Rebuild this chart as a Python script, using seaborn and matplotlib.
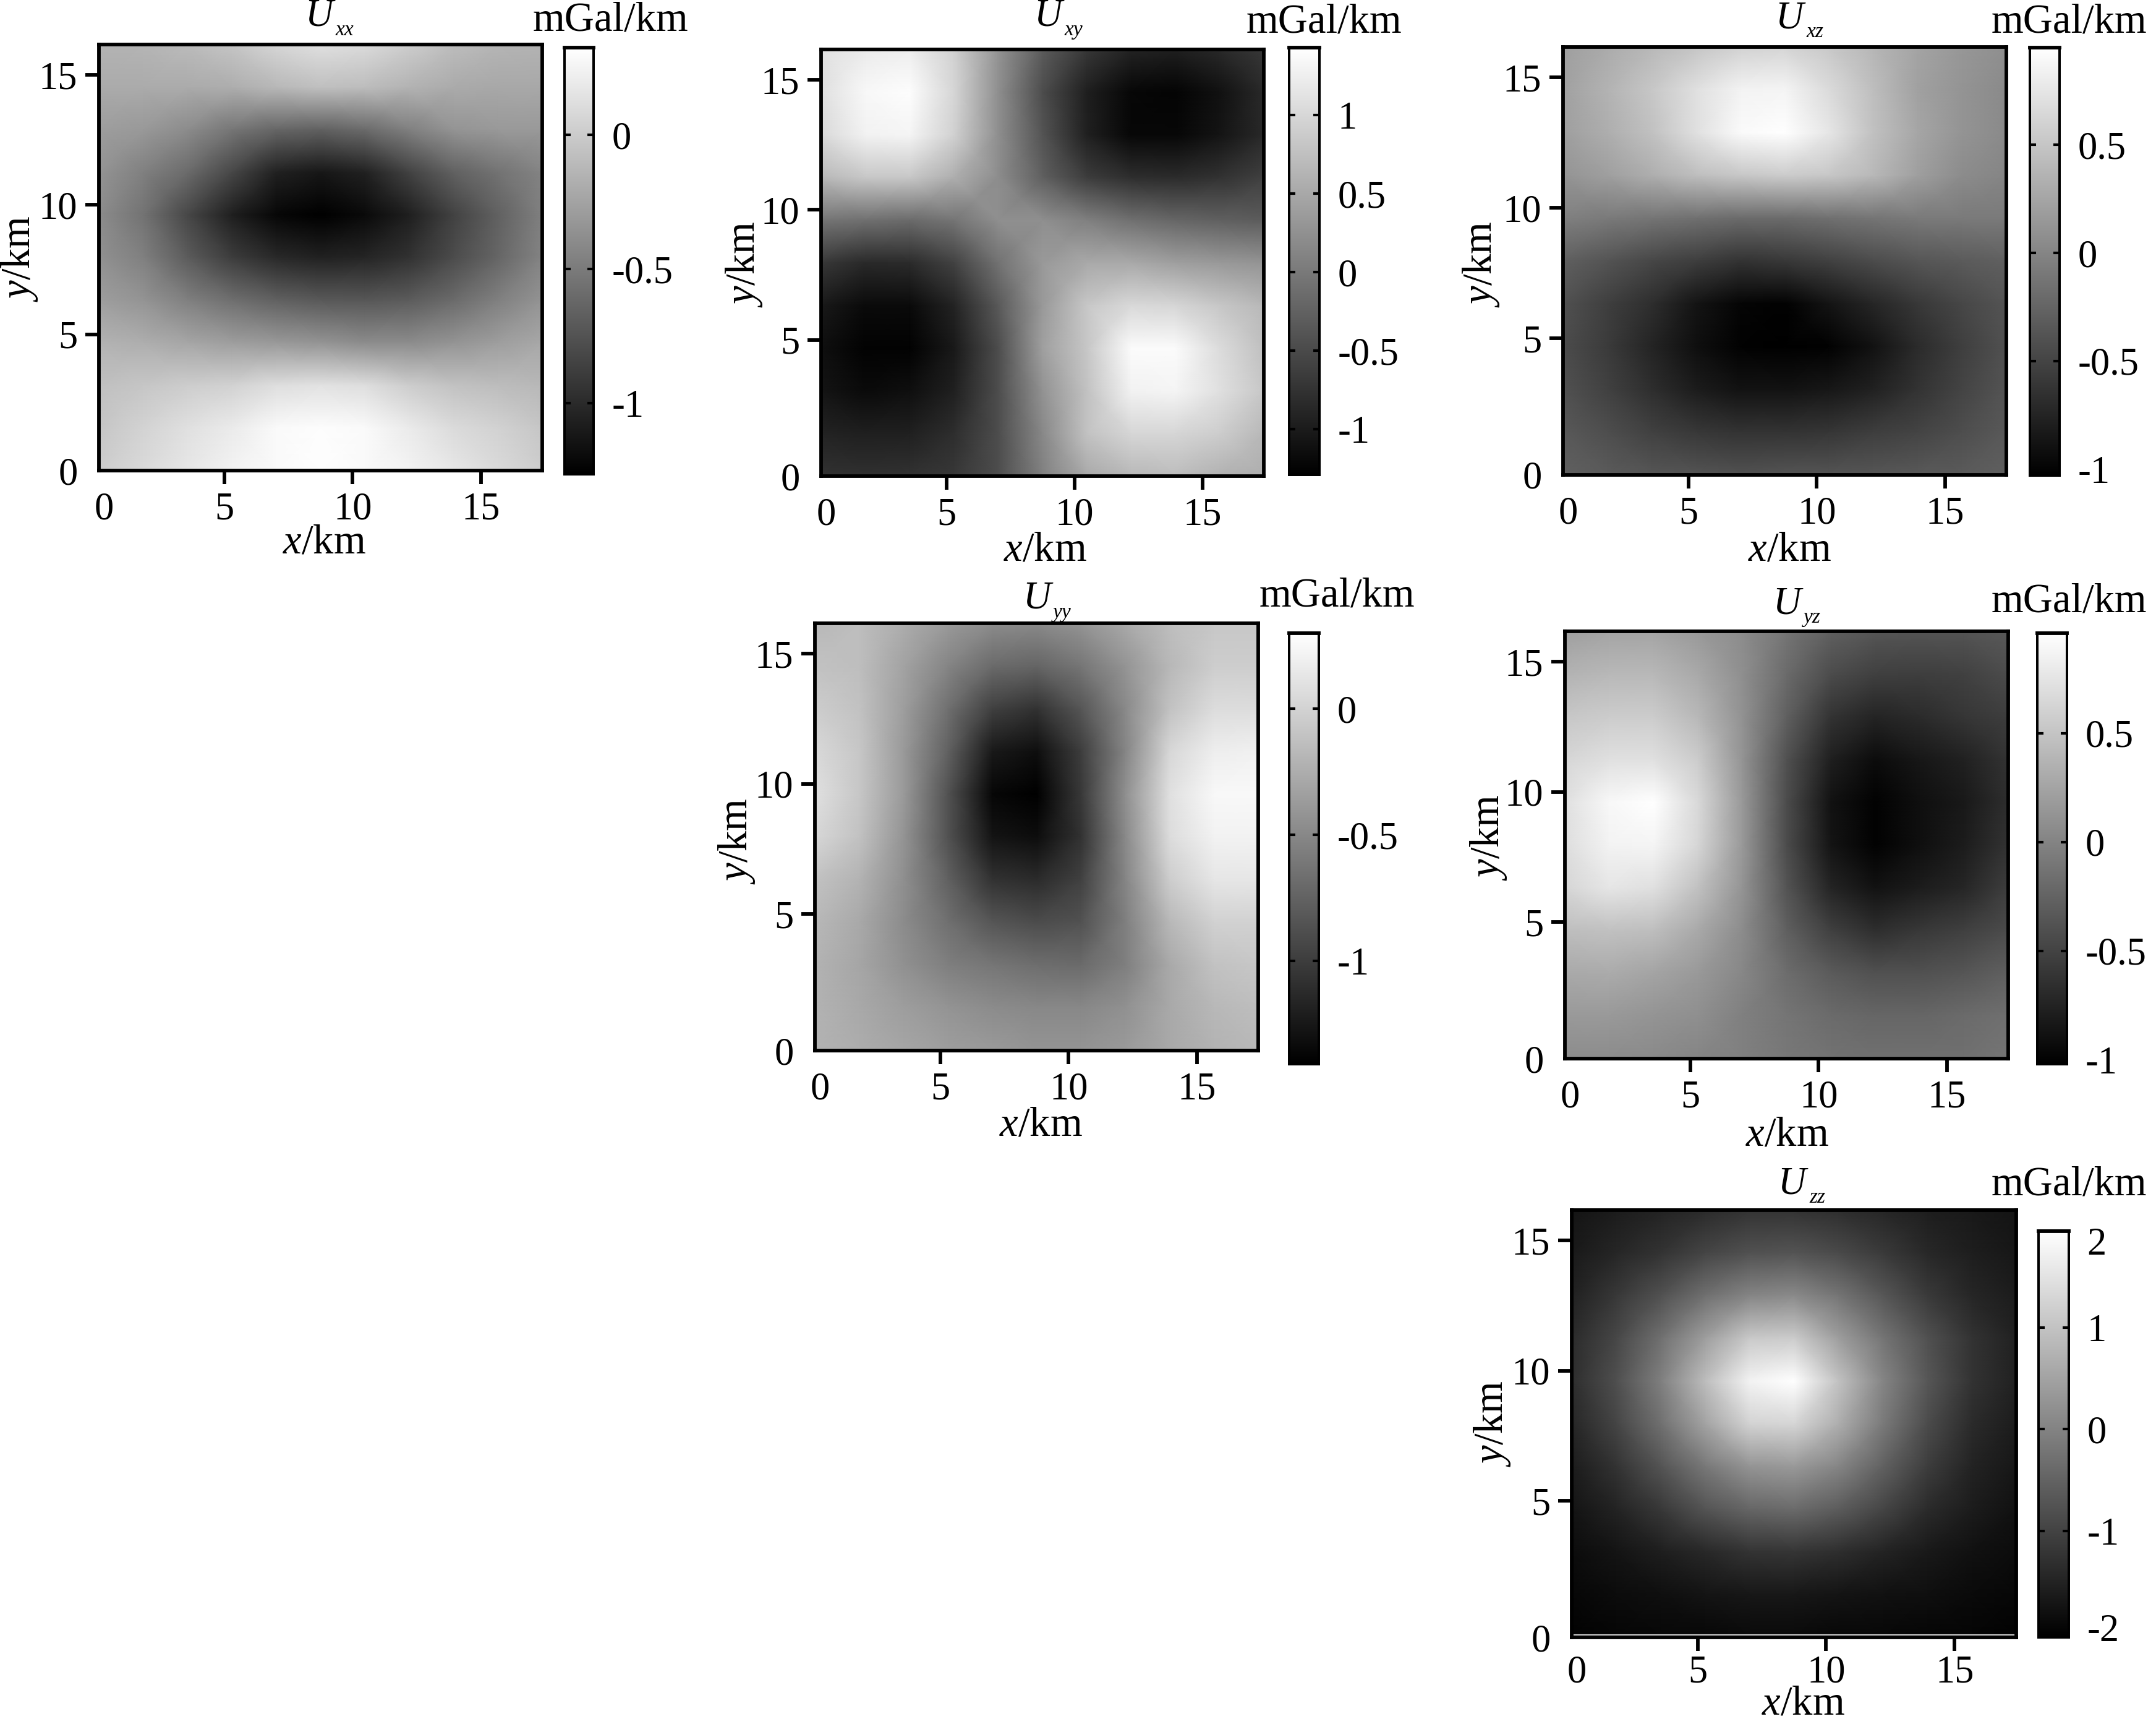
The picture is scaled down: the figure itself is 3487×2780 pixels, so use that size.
import numpy as np
import matplotlib
matplotlib.use('Agg')
import matplotlib.pyplot as plt
import seaborn as sns

plt.rcParams['font.family'] = ['Liberation Serif', 'DejaVu Serif']
plt.rcParams['mathtext.fontset'] = 'custom'
plt.rcParams['mathtext.rm'] = 'Liberation Serif'
plt.rcParams['mathtext.it'] = 'Liberation Serif:italic'

W, H = 3487, 2780
DPI = 300

# values, rows run from the top of each map to the bottom
Uxx = [
    [-.15, -.14, -.10, -.04, .07, .13, .10, .01, -.09, -.14, -.15],
    [-.20, -.20, -.20, -.18, -.12, -.07, -.09, -.15, -.20, -.22, -.22],
    [-.28, -.31, -.39, -.53, -.63, -.66, -.60, -.47, -.34, -.31, -.31],
    [-.34, -.47, -.60, -.82, -1.06, -1.12, -1.06, -.85, -.66, -.55, -.44],
    [-.39, -.55, -.82, -1.07, -1.22, -1.27, -1.20, -1.07, -.85, -.66, -.47],
    [-.36, -.47, -.69, -.88, -1.01, -1.06, -1.03, -.95, -.79, -.63, -.44],
    [-.28, -.34, -.47, -.57, -.66, -.71, -.72, -.69, -.60, -.47, -.34],
    [-.15, -.18, -.23, -.28, -.31, -.34, -.39, -.39, -.34, -.28, -.22],
    [-.07, -.03, .01, .04, .12, .14, .12, .01, -.06, -.09, -.12],
    [-.03, .05, .13, .20, .29, .31, .29, .20, .10, .04, -.03],
    [.01, .09, .17, .25, .29, .32, .29, .25, .17, .09, .01],
]
Uxy = [
    [1.10, 1.21, 1.24, .94, .29, -.31, -.69, -.91, -.96, -.85, -.69],
    [1.10, 1.35, 1.40, .99, .23, -.47, -.96, -1.21, -1.24, -1.10, -.85],
    [1.02, 1.29, 1.32, .94, .23, -.39, -.94, -1.21, -1.21, -1.07, -.85],
    [.67, .83, .83, .56, .21, -.26, -.64, -.80, -.83, -.75, -.61],
    [-.04, -.09, -.15, -.04, .23, .23, .07, -.09, -.20, -.26, -.31],
    [-.69, -.85, -.83, -.58, -.07, .34, .51, .51, .40, .34, .29],
    [-1.02, -1.18, -1.18, -.91, -.34, .34, .83, 1.02, .99, .83, .67],
    [-1.13, -1.26, -1.26, -1.02, -.47, .40, .83, 1.38, 1.38, 1.05, .75],
    [-1.07, -1.18, -1.13, -.94, -.47, .27, .78, 1.29, 1.32, 1.10, .83],
    [-.91, -.96, -.94, -.80, -.47, .16, .78, .99, .99, .89, .67],
    [-.75, -.77, -.75, -.69, -.47, .07, .51, .67, .72, .61, .56],
]
Uxz = [
    [.20, .30, .40, .50, .60, .62, .52, .38, .24, .14, .08],
    [.22, .36, .51, .71, .85, .87, .67, .44, .22, .12, .04],
    [.20, .32, .47, .71, .91, .95, .75, .47, .26, .12, .04],
    [.12, .20, .32, .44, .51, .55, .51, .40, .20, .06, .00],
    [-.04, -.08, -.12, -.16, -.20, -.20, -.16, -.12, -.08, -.08, -.08],
    [-.28, -.38, -.48, -.55, -.63, -.59, -.52, -.44, -.36, -.32, -.28],
    [-.40, -.54, -.67, -.87, -.99, -1.01, -.87, -.73, -.59, -.48, -.38],
    [-.44, -.57, -.75, -.91, -1.01, -1.03, -1.01, -.89, -.69, -.54, -.40],
    [-.40, -.52, -.67, -.81, -.89, -.89, -.85, -.77, -.63, -.50, -.38],
    [-.34, -.42, -.52, -.59, -.63, -.63, -.61, -.55, -.50, -.42, -.34],
    [-.28, -.32, -.36, -.38, -.40, -.38, -.38, -.36, -.34, -.32, -.28],
]
Uyy = [
    [-.18, -.14, -.25, -.38, -.47, -.49, -.42, -.28, -.14, -.08, -.08],
    [-.11, -.14, -.32, -.52, -.69, -.73, -.62, -.42, -.18, -.04, -.04],
    [-.04, -.11, -.35, -.66, -.98, -1.07, -.83, -.49, -.11, .06, .06],
    [.04, -.08, -.38, -.76, -1.24, -1.31, -1.00, -.52, .03, .18, .20],
    [.09, -.08, -.38, -.86, -1.36, -1.41, -1.03, -.45, .09, .25, .25],
    [.03, -.11, -.42, -.86, -1.27, -1.32, -1.07, -.49, .06, .21, .21],
    [-.11, -.21, -.45, -.76, -1.07, -1.12, -.97, -.52, -.04, .13, .13],
    [-.18, -.28, -.47, -.66, -.83, -.90, -.86, -.56, -.18, -.01, -.01],
    [-.21, -.30, -.44, -.56, -.62, -.67, -.69, -.56, -.28, -.11, -.08],
    [-.21, -.28, -.35, -.42, -.47, -.50, -.50, -.44, -.28, -.18, -.14],
    [-.21, -.25, -.30, -.35, -.38, -.42, -.42, -.38, -.28, -.21, -.18],
]
Uyz = [
    [.21, .25, .25, .17, .07, -.11, -.27, -.35, -.37, -.37, -.33],
    [.37, .41, .41, .29, .09, -.19, -.43, -.52, -.54, -.51, -.43],
    [.52, .56, .56, .41, .11, -.27, -.62, -.74, -.68, -.60, -.54],
    [.64, .72, .72, .56, .13, -.39, -.78, -.92, -.84, -.76, -.62],
    [.72, .90, .96, .66, .17, -.43, -.88, -1.00, -.90, -.82, -.66],
    [.70, .86, .88, .64, .17, -.43, -.86, -1.00, -.90, -.80, -.62],
    [.64, .76, .72, .48, .13, -.37, -.74, -.88, -.80, -.72, -.54],
    [.45, .48, .45, .29, .07, -.27, -.52, -.66, -.58, -.52, -.43],
    [.29, .31, .25, .17, .03, -.17, -.31, -.39, -.39, -.35, -.27],
    [.17, .17, .13, .09, -.03, -.11, -.19, -.23, -.23, -.19, -.15],
    [.07, .07, .05, .01, -.03, -.09, -.13, -.15, -.15, -.15, -.11],
]
Uzz = [
    [-1.73, -1.61, -1.49, -1.37, -1.25, -1.25, -1.33, -1.45, -1.57, -1.65, -1.73],
    [-1.65, -1.45, -1.25, -.97, -.77, -.73, -.89, -1.13, -1.41, -1.57, -1.69],
    [-1.53, -1.17, -.77, -.29, .03, .11, -.21, -.69, -1.13, -1.45, -1.61],
    [-1.37, -.93, -.29, .43, 1.10, 1.15, .43, -.21, -.77, -1.25, -1.53],
    [-1.33, -.81, -.05, .91, 1.75, 1.95, .99, .03, -.69, -1.25, -1.53],
    [-1.45, -.97, -.29, .51, 1.25, 1.30, .67, -.13, -.85, -1.37, -1.61],
    [-1.61, -1.25, -.73, -.17, .27, .35, .03, -.53, -1.09, -1.49, -1.69],
    [-1.73, -1.49, -1.17, -.73, -.45, -.37, -.61, -.97, -1.37, -1.61, -1.77],
    [-1.85, -1.73, -1.57, -1.41, -1.25, -1.21, -1.33, -1.49, -1.65, -1.77, -1.85],
    [-1.93, -1.85, -1.81, -1.73, -1.69, -1.69, -1.73, -1.77, -1.81, -1.89, -1.93],
    [-2.01, -1.97, -1.93, -1.93, -1.89, -1.89, -1.93, -1.93, -1.97, -1.97, -2.01],
]

# colour limits and colour bar ticks of each panel
vlims = [(-1.265, .325), (-1.29, 1.43), (-1.03, .95), (-1.41, .30), (-1.02, .96), (-2.05, 1.95)]
cbar_ticks = [
    [0, -.5, -1],
    [1, .5, 0, -.5, -1],
    [.5, 0, -.5, -1],
    [0, -.5, -1],
    [.5, 0, -.5, -1],
    [1.85, 1, 0, -1, -1.95],
]
cbar_labels = [
    ['0', '-0.5', '-1'],
    ['1', '0.5', '0', '-0.5', '-1'],
    ['0.5', '0', '-0.5', '-1'],
    ['0', '-0.5', '-1'],
    ['0.5', '0', '-0.5', '-1'],
    ['2', '1', '0', '-1', '-2'],
]
subs = ['xx', 'xy', 'xz', 'yy', 'yz', 'zz']
grids = [Uxx, Uxy, Uxz, Uyy, Uyz, Uzz]

# km range covered by every map and its tick labels
XMIN, XMAX = 0.1, 17.4
YMIN, YMAX = -0.24, 16.17
x_ticks = [0.3, 5, 10, 15]
y_ticks = [YMIN, 5, 10, 15]
tick_labels = ['0', '5', '10', '15']

# pixel layout: map box, colour bar box, then centres of the texts
boxes = [(160, 877, 72, 761), (1328, 2044, 80, 770), (2528, 3245, 76, 768),
         (1318, 2035, 1008, 1699), (2531, 3248, 1021, 1712), (2542, 3261, 1957, 2648)]
cbar_boxes = [(913, 960, 77, 767), (2085, 2134, 77, 768), (3283, 3331, 77, 769),
              (2085, 2133, 1024, 1721), (3295, 3343, 1024, 1721), (3297, 3346, 1991, 2648)]
unit_pos = [(987, 33), (2141, 36), (3346, 36), (2162, 964), (3346, 973), (3346, 1916)]
title_pos = [(536, 27), (1715, 27), (2914, 30), (1697, 969), (2910, 977), (2918, 1915)]
xlabel_pos = [(524, 878), (1690, 890), (2894, 890), (1683, 1820), (2890, 1836), (2916, 2756)]
ylabel_pos = [(32, 418), (1204, 427), (2395, 427), (1192, 1360), (2408, 1354), (2414, 2302)]


def add_box(fig, box):
    l, r, t, b = box
    return fig.add_axes([l / W, 1 - b / H, (r - l) / W, (b - t) / H])


def put_text(fig, pos, s, **kw):
    fig.text(pos[0] / W, 1 - pos[1] / H, s, ha='center', va='center', **kw)


fig = plt.figure(figsize=(W / DPI, H / DPI), dpi=DPI, facecolor='white')

for i, grid in enumerate(grids):
    ax = add_box(fig, boxes[i])
    cax = add_box(fig, cbar_boxes[i])
    vmin, vmax = vlims[i]

    sns.heatmap(np.array(grid), cmap='gray', vmin=vmin, vmax=vmax, ax=ax, cbar_ax=cax,
                xticklabels=False, yticklabels=False, shading='gouraud')

    nrow, ncol = np.array(grid).shape
    ax.set_xlim(0, ncol - 1)
    ax.set_ylim(nrow - 1, 0)

    # km to grid index, the heatmap axes count cells
    ax.set_xticks([(k - XMIN) / (XMAX - XMIN) * (ncol - 1) for k in x_ticks])
    ax.set_xticklabels(tick_labels, fontsize=15)
    ax.set_yticks([(YMAX - k) / (YMAX - YMIN) * (nrow - 1) for k in y_ticks])
    ax.set_yticklabels(tick_labels, fontsize=15, rotation=0)
    # last map sits tight against the bottom edge, so its x labels ride a bit higher
    ax.tick_params(length=5.3, width=1.4, pad=3, direction='out')
    if i == 5:
        ax.tick_params(axis='x', pad=1.5)
    ax.xaxis.get_major_ticks()[0].tick1line.set_visible(False)
    ax.yaxis.get_major_ticks()[0].tick1line.set_visible(False)
    for s in ax.spines.values():
        s.set_visible(True)
        s.set_linewidth(1.4)
        s.set_color('black')

    cax.set_yticks(cbar_ticks[i])
    cax.set_yticklabels(cbar_labels[i], fontsize=15)
    cax.tick_params(axis='y', left=True, right=True, direction='in', length=2.4, width=1, pad=7)
    for t, v in zip(cax.yaxis.get_major_ticks(), cbar_ticks[i]):
        if min(abs(v - vmin), abs(v - vmax)) / (vmax - vmin) < 0.05:
            t.tick1line.set_visible(False)
            t.tick2line.set_visible(False)
    for name, s in cax.spines.items():
        s.set_visible(True)
        s.set_color('black')
        s.set_linewidth(1.4 if name == 'top' else 0.9)

    put_text(fig, unit_pos[i], 'mGal/km', fontsize=16)
    tx, ty = title_pos[i]
    put_text(fig, (tx - 20, ty), 'U', fontsize=15, style='italic')
    put_text(fig, (tx + 21, ty + 22), subs[i], fontsize=8, style='italic')
    put_text(fig, xlabel_pos[i], '$x$/km', fontsize=16)
    put_text(fig, ylabel_pos[i], '$y$/km', fontsize=16, rotation=90)

# thin pale line along the bottom of the last map
ax.axhline(y=(YMAX - YMIN - 0.1) / (YMAX - YMIN) * (nrow - 1), color='#cccccc', linewidth=0.5)

fig.savefig('out.png', dpi=DPI, facecolor='white')
